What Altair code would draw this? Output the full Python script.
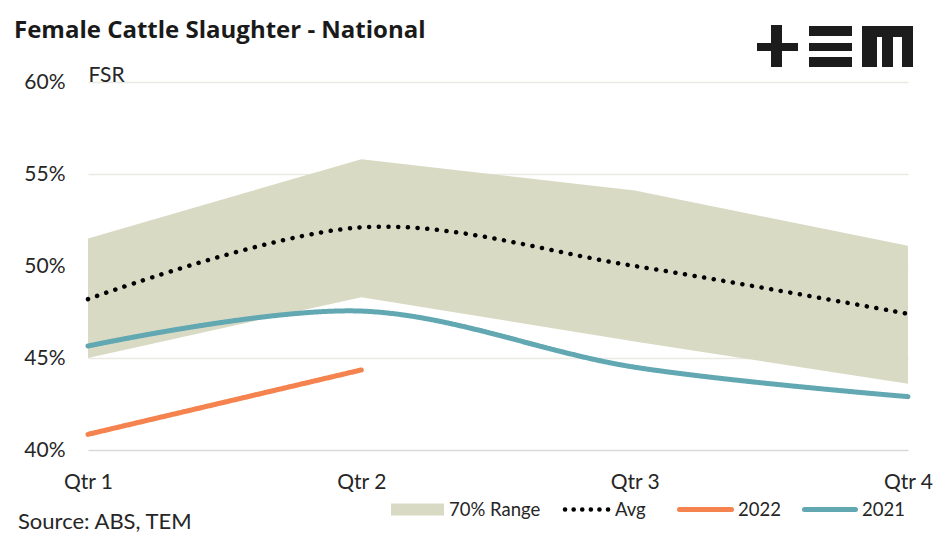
import altair as alt
import pandas as pd

quarters = ["Qtr 1", "Qtr 2", "Qtr 3", "Qtr 4"]
range_low = [45.0, 48.3, 45.9, 43.6]
range_high = [51.5, 55.8, 54.1, 51.1]
avg_vals = [48.2, 52.1, 50.0, 47.4]
vals_2021 = [45.65, 47.55, 44.5, 42.9]
vals_2022 = [40.85, 44.35]
quarters_2022 = ["Qtr 1", "Qtr 2"]

series_names = ["70% Range", "Avg", "2022", "2021"]
series_colors = ["#D9DAC4", "#000000", "#F5834F", "#62A8B2"]
series_dash = [[1, 0], [0.1, 9.6], [1, 0], [1, 0]]
series_width = [12, 4.5, 5, 5]

FONT = "Lato"
TEXT = "#262626"

range_df = pd.DataFrame({"quarter": quarters, "low": range_low, "high": range_high})

rows = []
for q, v in zip(quarters, avg_vals):
    rows.append({"quarter": q, "value": v, "series": "Avg"})
for q, v in zip(quarters_2022, vals_2022):
    rows.append({"quarter": q, "value": v, "series": "2022"})
for q, v in zip(quarters, vals_2021):
    rows.append({"quarter": q, "value": v, "series": "2021"})
lines_df = pd.DataFrame(rows)

x_enc = alt.X(
    "quarter:N",
    sort=quarters,
    scale=alt.Scale(type="point", padding=0),
    axis=alt.Axis(
        title=None, labelAngle=0, ticks=False, tickSize=0, domain=False, grid=False,
        labelFont=FONT, labelFontSize=21, labelColor=TEXT,
        labelBaseline="alphabetic", labelPadding=38,
    ),
)
y_scale = alt.Scale(domain=[40, 60], nice=False, zero=False)

area = alt.Chart(range_df).mark_area(color="#D9DAC4", interpolate="linear").encode(
    x=x_enc,
    y=alt.Y(
        "low:Q",
        scale=y_scale,
        axis=alt.Axis(
            values=[40, 45, 50, 55, 60], labelExpr="datum.value + '%'",
            ticks=False, tickSize=0, domain=False, grid=True,
            gridColor={"condition": {"test": "datum.value === 40", "value": "#D9D9D9"}, "value": "#EAEAE2"},
            gridWidth=1.5,
            labelFont=FONT, labelFontSize=21, labelColor=TEXT, labelPadding=23,
            title="FSR", titleAngle=0, titleX=0, titleY=-1, titleAlign="left",
            titleBaseline="alphabetic", titleFont=FONT, titleFontSize=21,
            titleFontWeight="normal", titleColor=TEXT,
        ),
    ),
    y2="high:Q",
)

lines = alt.Chart(lines_df).mark_line(interpolate="cardinal", strokeCap="round").encode(
    x=alt.X("quarter:N", sort=quarters),
    y=alt.Y("value:Q", scale=y_scale),
    color=alt.Color("series:N", scale=alt.Scale(domain=series_names, range=series_colors), legend=None),
    strokeDash=alt.StrokeDash("series:N", scale=alt.Scale(domain=series_names, range=series_dash), legend=None),
    strokeWidth=alt.StrokeWidth(
        "series:N",
        scale=alt.Scale(type="ordinal", domain=series_names, range=series_width),
        legend=None,
    ),
    detail="series:N",
)

one = alt.Data(values=[{}])

title = alt.Chart(one).mark_text(
    align="left", baseline="alphabetic", font="Open Sans", fontSize=24, fontWeight="bold", color="#1A1A1A"
).encode(x=alt.value(-74), y=alt.value(-44), text=alt.value("Female Cattle Slaughter - National"))

source = alt.Chart(one).mark_text(
    align="left", baseline="alphabetic", font=FONT, fontSize=22, color=TEXT
).encode(x=alt.value(-70), y=alt.value(447), text=alt.value("Source: ABS, TEM"))

# logo (+EM)
logo_boxes = [
    (669, 710, -39, -31),
    (683, 694, -57, -15),
    (721, 764, -56, -46),
    (721, 764, -39, -31),
    (721, 764, -25, -15),
    (774, 825, -56, -45),
    (774, 789, -56, -15),
    (794, 805, -56, -15),
    (814, 825, -56, -15),
]
logo_layers = [
    alt.Chart(one).mark_rect(color="#1C1C1C").encode(
        x=alt.value(a), x2=alt.value(b), y=alt.value(c), y2=alt.value(d)
    )
    for a, b, c, d in logo_boxes
]

# legend (drawn as annotation marks)
LEG_Y = 427.5
LEG_TXT_Y = 433.5
leg_swatch = alt.Chart(one).mark_rect(color=series_colors[0]).encode(
    x=alt.value(303), x2=alt.value(356), y=alt.value(LEG_Y - 6), y2=alt.value(LEG_Y + 6)
)
leg_avg = alt.Chart(one).mark_rule(
    color=series_colors[1], strokeWidth=4.5, strokeDash=[0.1, 8.5], strokeCap="round"
).encode(x=alt.value(477), x2=alt.value(520.2), y=alt.value(LEG_Y))
leg_2022 = alt.Chart(one).mark_rule(
    color=series_colors[2], strokeWidth=5, strokeCap="round"
).encode(x=alt.value(591.5), x2=alt.value(643.5), y=alt.value(LEG_Y))
leg_2021 = alt.Chart(one).mark_rule(
    color=series_colors[3], strokeWidth=5, strokeCap="round"
).encode(x=alt.value(716.5), x2=alt.value(767.5), y=alt.value(LEG_Y))
leg_texts = [
    alt.Chart(one).mark_text(
        align="left", baseline="alphabetic", font=FONT, fontSize=18.5, color=TEXT
    ).encode(x=alt.value(px), y=alt.value(LEG_TXT_Y), text=alt.value(name))
    for px, name in zip([361, 527, 650, 774], series_names)
]

chart = alt.layer(
    area, lines, title, source, *logo_layers,
    leg_swatch, leg_avg, leg_2022, leg_2021, *leg_texts,
).properties(
    width=820,
    height=368,
    autosize=alt.AutoSizeParams(type="none"),
    padding={"left": 80, "top": 74, "right": 30, "bottom": 83},
    background="white",
).configure_view(stroke=None)

chart.save("out.html", embed_options={"renderer": "svg", "actions": False})
